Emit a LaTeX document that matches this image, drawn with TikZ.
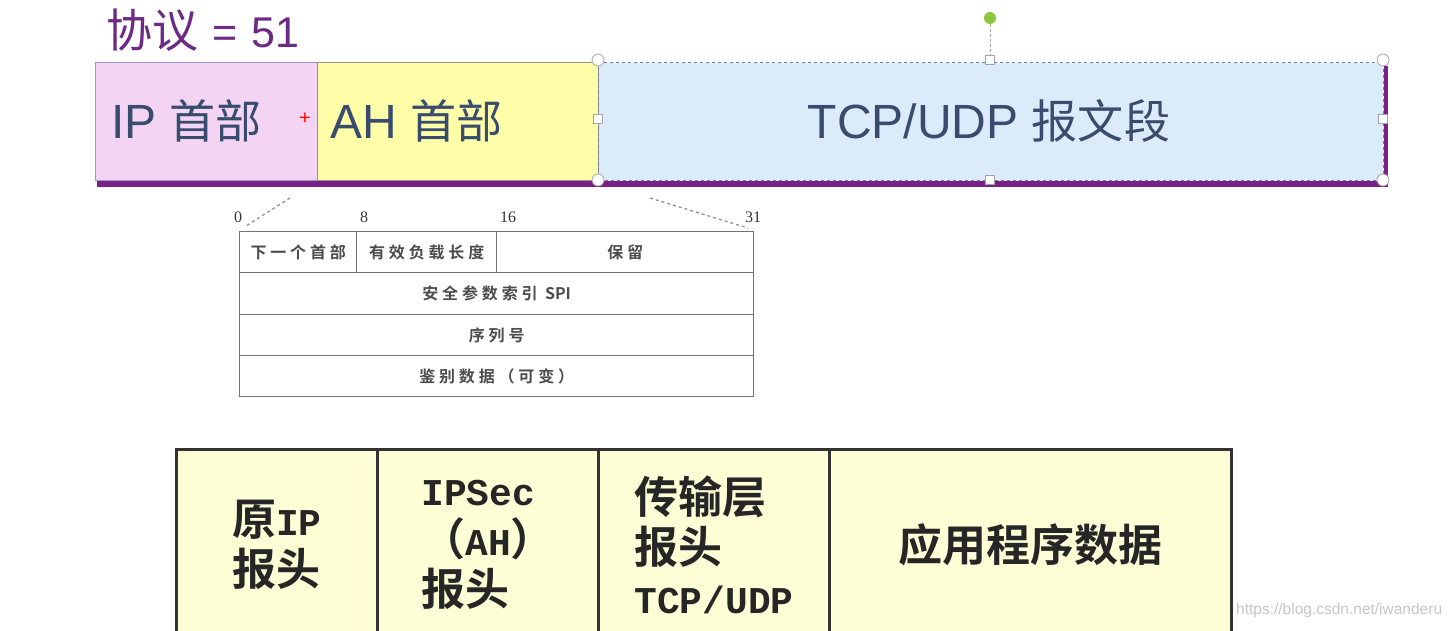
\documentclass[tikz,border=0pt]{standalone}
\usepackage{fontspec}
\setmainfont{Liberation Sans}
\newfontfamily\cjk{Noto Sans CJK SC}
\newfontfamily\cjkt[Scale=0.96]{Noto Sans CJK SC}
\newfontfamily\cjkb{Noto Sans CJK SC Bold}
\newfontfamily\cjksm[LetterSpace=24]{Noto Sans CJK SC Bold}
\newfontfamily\serif{Liberation Serif}
\newfontfamily\mono[Scale=0.86]{Liberation Mono}
\newcommand\latpart[1]{{\mono\bfseries #1}}
\newcommand\zh[1]{{\cjkt #1}}
\usetikzlibrary{positioning}
\definecolor{titlepurple}{HTML}{6C2A84}
\definecolor{shadowpurple}{HTML}{7A1F85}
\definecolor{topblue}{HTML}{3A4C6E}
\definecolor{ippink}{HTML}{F3D5F3}
\definecolor{ipedge}{HTML}{9A9AC8}
\definecolor{ahyellow}{HTML}{FEFEA8}
\definecolor{tcpblue}{HTML}{DCEBFA}
\definecolor{tcpedge}{HTML}{6F7F9F}
\definecolor{cellyellow}{HTML}{FDFDD6}
\definecolor{rotgreen}{HTML}{8DC640}
\begin{document}
\begin{tikzpicture}[x=1pt,y=-1pt,
  toptext/.style={font=\fontsize{48}{52}\selectfont, text=topblue, inner sep=0pt},
  hdrbox/.style={minimum height=118pt, anchor=north west, inner sep=0pt, line width=1pt},
  handle/.style={circle, draw=gray!70, fill=white, line width=0.8pt, minimum size=12pt, inner sep=0pt},
  sqhandle/.style={rectangle, draw=gray!70, fill=white, line width=0.8pt, minimum size=9pt, inner sep=0pt},
  bitlbl/.style={font=\serif\fontsize{16}{16}\selectfont, text=black!80, inner sep=0pt},
  cell/.style={draw=black!55, line width=1.4pt, anchor=north west, inner sep=0pt,
    font=\cjksm\fontsize{16}{16}\selectfont, text=black!70},
  bigcell/.style={draw=black!80, fill=cellyellow, line width=3pt, anchor=north west, inner sep=0pt,
    minimum height=190pt, font=\cjkb\fontsize{44}{50}\selectfont, align=left, text=black!85},
]
\useasboundingbox (0,0) rectangle (1454,630);
\clip (0,0) rectangle (1454,630);
\fill[white] (0,0) rectangle (1454,630);

% title
\node[font=\fontsize{43}{46}\selectfont, text=titlepurple, anchor=west, inner sep=0pt] (title) at (106,30)
  {{\cjk\fontsize{46}{46}\selectfont 协议}\hspace{14pt}=\hspace{14pt}51};

% purple shadow of the header bar
\fill[shadowpurple] (97,178) rectangle (1388,187);
\fill[shadowpurple] (1383,66) rectangle (1388,187);

% header: IP | AH | TCP/UDP
\node[hdrbox, draw=ipedge, fill=ippink, minimum width=222pt] (ip) at (95,62) {};
\node[hdrbox, draw=ipedge!70!olive, fill=ahyellow, minimum width=281pt] (ah) at (317,62) {};
\node[hdrbox, draw=tcpedge, dashed, fill=tcpblue, minimum width=785pt] (tcp) at (598,62) {};
\node[toptext, anchor=west] (iptxt) at (111,121) {IP \zh{首部}};
\node[toptext, anchor=west] (ahtxt) at (330,121) {AH \zh{首部}};
\node[toptext] (tcptxt) at (989,121) {TCP/UDP \zh{报文段}};
\node[text=red, font=\fontsize{20}{20}\selectfont, inner sep=0pt] (plus) at (305,119) {+};

% selection handles
\foreach \x/\y in {598/60,1383/60,598/180,1383/180}
  \node[handle] (h\x-\y) at (\x,\y) {};
\foreach \x/\y in {990/60,598/119,1383/119,990/180}
  \node[sqhandle] (s\x-\y) at (\x,\y) {};
\node[circle, fill=rotgreen, minimum size=12pt, inner sep=0pt] (rot) at (990,18) {};
\draw[densely dashed, gray!70, line width=0.8pt] (rot) -- (s990-60);

% AH header layout
\node[cell, minimum width=117pt, minimum height=41pt] (nh) at (239,231) {下一个首部};
\node[cell, minimum width=140pt, minimum height=41pt] (pl) at (356,231) {有效负载长度};
\node[cell, minimum width=257pt, minimum height=41pt] (rs) at (496,231) {保留};
\node[cell, minimum width=514pt, minimum height=42pt] (spi) at (239,272) {安全参数索引 {\cjkb SPI}};
\node[cell, minimum width=514pt, minimum height=41pt] (seq) at (239,314) {序列号};
\node[cell, minimum width=514pt, minimum height=41pt] (auth) at (239,355) {鉴别数据（可变）};

\node[bitlbl] (b0) at (238,217) {0};
\node[bitlbl] (b8) at (364,217) {8};
\node[bitlbl] (b16) at (508,217) {16};
\node[bitlbl] (b31) at (753,217) {31};

\coordinate (ahl) at (290,198);
\coordinate (ahr) at (650,198);
\coordinate (nwl) at (246,226);
\coordinate (ner) at (748,228);
\draw[dashed, gray!85, line width=1.3pt] (ahl) -- (nwl);
\draw[dashed, gray!85, line width=1.3pt] (ahr) -- (ner);

% packet in transport mode
\node[bigcell, minimum width=201pt] (orig) at (175,448) {原\latpart{IP}\\报头};
\node[bigcell, minimum width=221pt] (ipsec) at (376,448) {\latpart{IPSec}\\（\latpart{AH}）\\报头};
\node[bigcell, minimum width=231pt] (trans) at (597,448) {传输层\\报头\\\latpart{TCP/UDP}};
\node[bigcell, minimum width=402pt] (app) at (828,448) {应用程序数据};

\node[font=\fontsize{15.5}{16}\selectfont, text=gray!45, anchor=west, inner sep=0pt] (wm) at (1236,610) {https://blog.csdn.net/iwanderu};
\end{tikzpicture}
\end{document}
